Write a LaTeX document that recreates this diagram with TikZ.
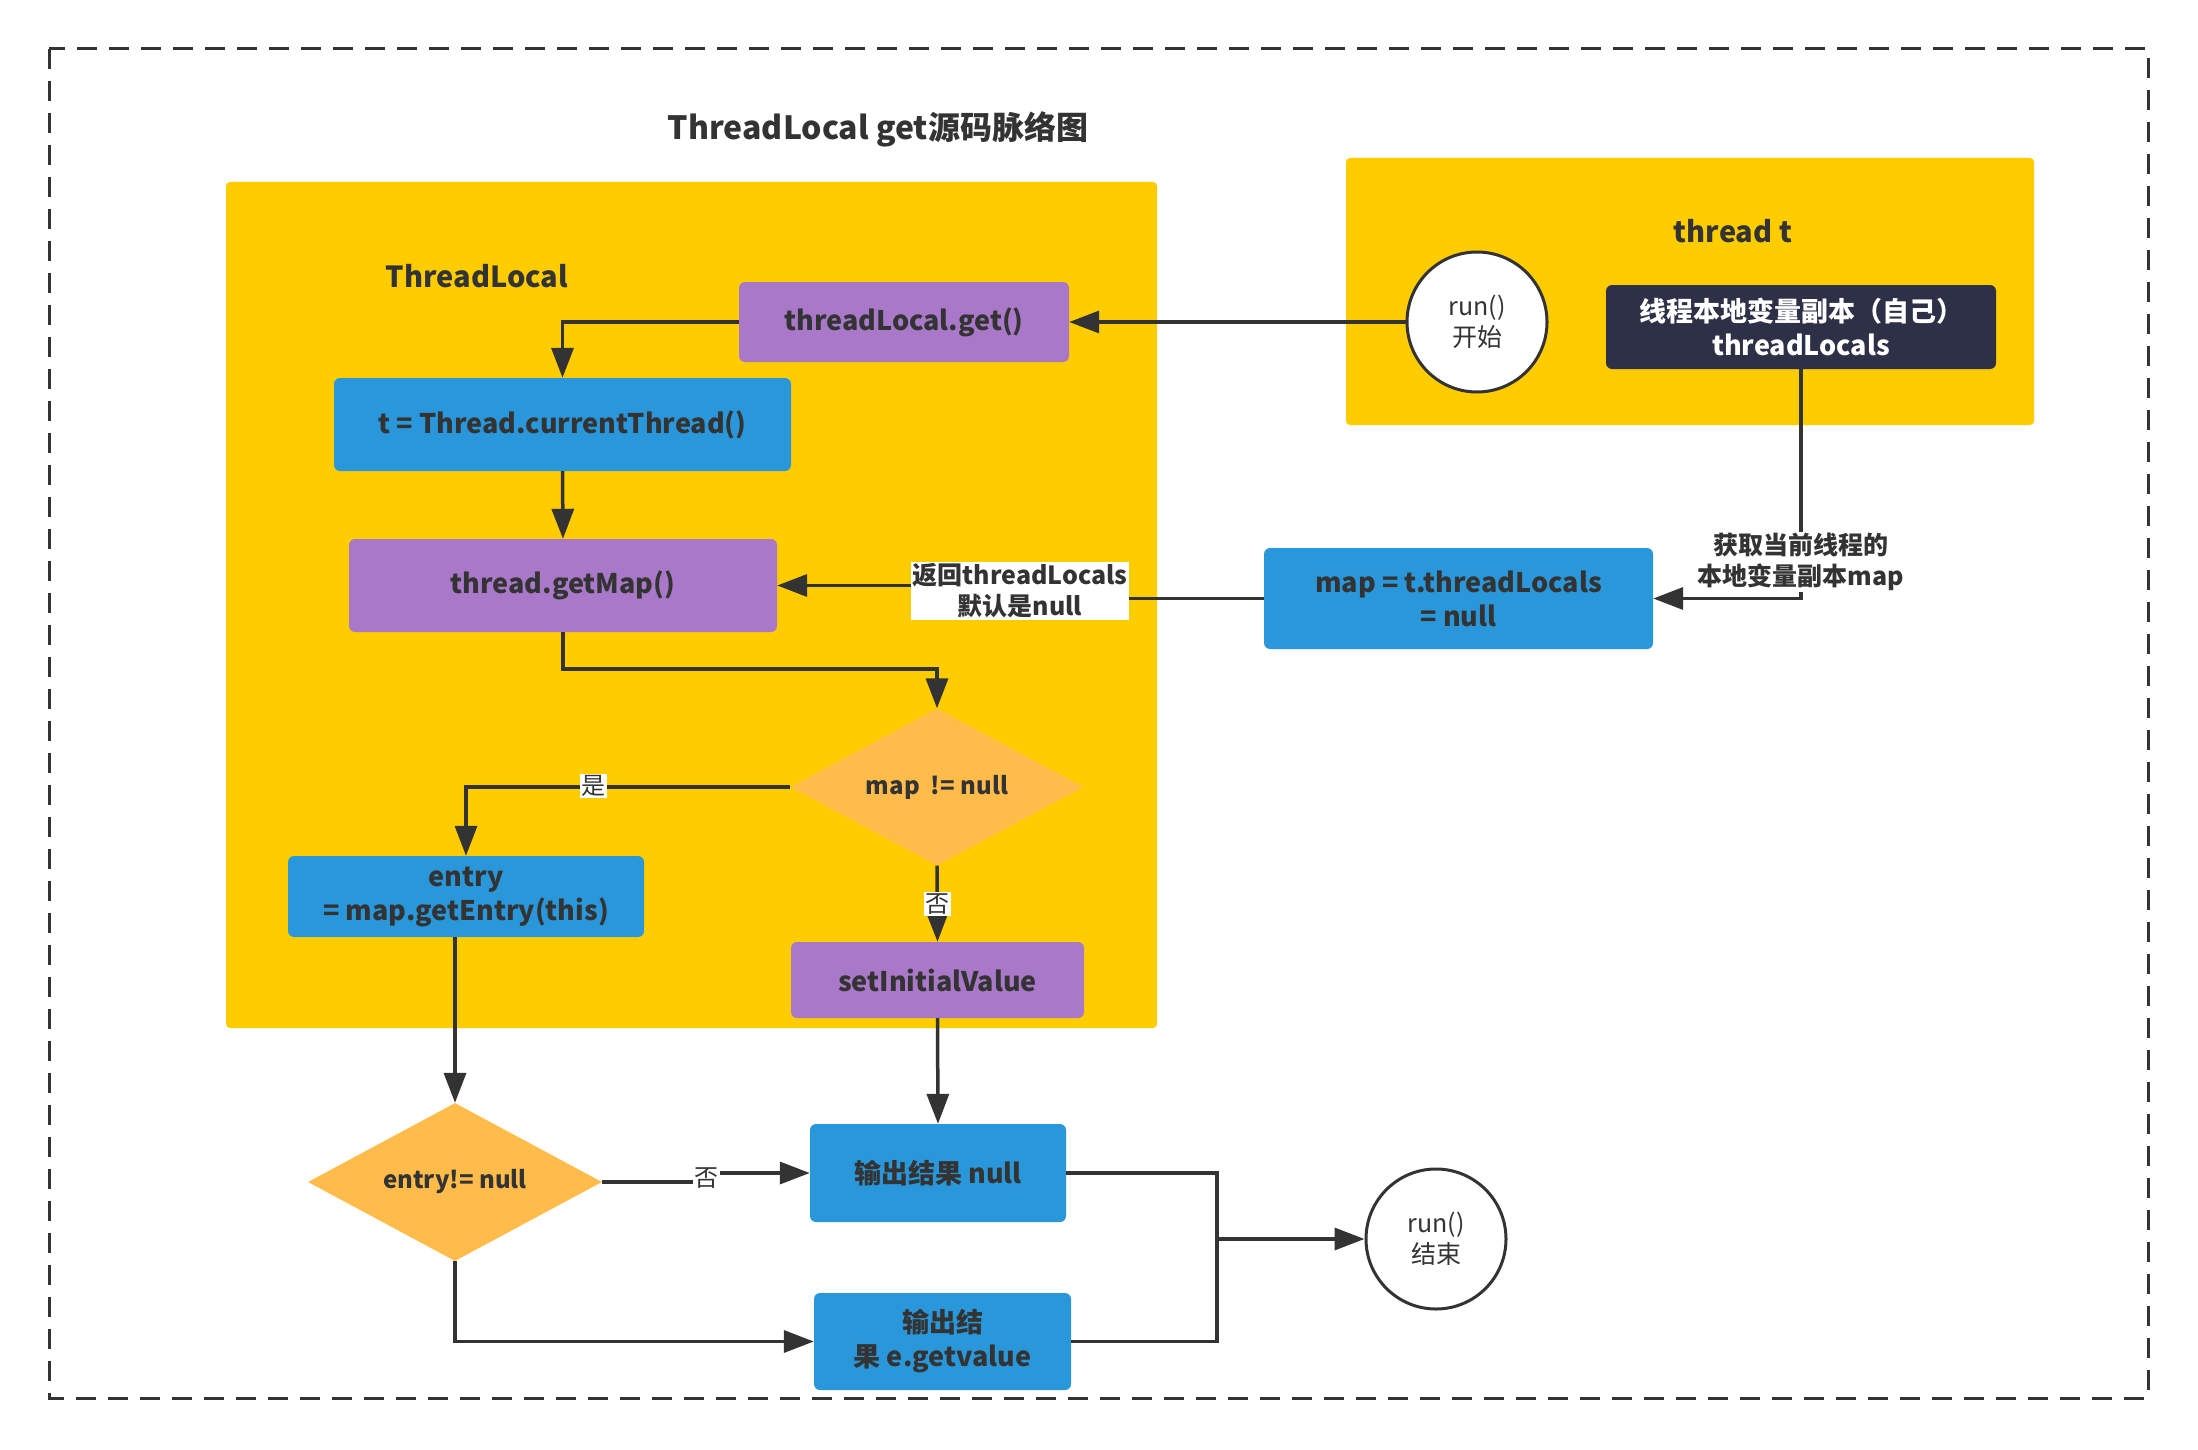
\documentclass[tikz,border=0pt]{standalone}
\usepackage{fontspec}
\setmainfont{Noto Sans CJK SC}
\usetikzlibrary{arrows.meta,shapes.geometric}
\definecolor{ylw}{HTML}{FFCC00}
\definecolor{prp}{HTML}{A978C9}
\definecolor{blu}{HTML}{2997DA}
\definecolor{dmd}{HTML}{FFBC4A}
\definecolor{drk}{HTML}{2D3047}
\definecolor{ink}{HTML}{333333}
\begin{document}
\begin{tikzpicture}[x=1pt,y=-1pt,
  line/.style={draw=ink, line width=3.5pt},
  arr/.style={line, -{Triangle[length=30pt,width=22pt]}},
  box/.style={rectangle, rounded corners=6pt, inner sep=0pt, text=ink, align=center, font=\bfseries\fontsize{27}{34}\selectfont},
  pbox/.style={box, fill=prp},
  bbox/.style={box, fill=blu},
  dia/.style={diamond, fill=dmd, inner sep=0pt, text=ink, font=\bfseries\fontsize{24}{30}\selectfont},
  term/.style={circle, draw=ink, line width=3pt, fill=white, minimum size=140pt, inner sep=0pt, align=center, text=ink, font=\fontsize{25}{31}\selectfont},
  lbl/.style={fill=white, inner sep=1.5pt, text=ink, font=\fontsize{24}{28}\selectfont},
  blbl/.style={fill=white, inner sep=1.5pt, text=ink, align=center, font=\bfseries\fontsize{25}{31}\selectfont},
  frame/.style={fill=ylw, rounded corners=4pt, inner sep=0pt},
  ttl/.style={text=ink, font=\bfseries\fontsize{29}{34}\selectfont}]
\useasboundingbox (0,0) rectangle (2198,1450);
\fill[white] (0,0) rectangle (2198,1450);
\draw[ink, line width=3pt, dash pattern=on 20pt off 12pt] (49,49) rectangle (2148,1398);
\node[ttl, font=\bfseries\fontsize{32}{36}\selectfont] (title) at (878,129) {ThreadLocal get源码脉络图};
% frames
\node[frame, minimum width=931pt, minimum height=846pt] (tlframe) at (691.5,605) {};
\node[ttl] (tllabel) at (477,276) {ThreadLocal};
\node[frame, minimum width=688pt, minimum height=267pt] (thframe) at (1690,291.5) {};
\node[ttl] (thlabel) at (1733,231) {thread t};
% nodes
\node[term] (start) at (1477,322) {run()\\开始};
\node[box, fill=drk, text=white, minimum width=390pt, minimum height=84pt] (dark) at (1801,327) {线程本地变量副本（自己）\\threadLocals};
\node[pbox, minimum width=330pt, minimum height=80pt] (get) at (904,322) {\raisebox{-3pt}{threadLocal.get()}};
\node[bbox, minimum width=457pt, minimum height=93pt] (cur) at (562.5,424.5) {\raisebox{-2pt}{t = Thread.currentThread()}};
\node[pbox, minimum width=428pt, minimum height=93pt] (getmap) at (563,585.5) {\raisebox{-2pt}{thread.getMap()}};
\node[bbox, minimum width=389pt, minimum height=101pt] (mapbox) at (1458.5,598.5) {map = t.threadLocals\\= null};
\node[dia, minimum width=293pt, minimum height=157pt] (mapnn) at (937,787) {\makebox[0pt]{\raisebox{-4pt}{map\ \ != null}}};
\node[bbox, minimum width=356pt, minimum height=81pt] (entry) at (466,896.5) {entry\\= map.getEntry(this)};
\node[pbox, minimum width=293pt, minimum height=76pt] (setinit) at (937.5,980) {setInitialValue};
\node[dia, minimum width=294pt, minimum height=158pt] (entnn) at (455,1182) {\makebox[0pt]{\raisebox{-5pt}{entry!= null}}};
\node[bbox, minimum width=256pt, minimum height=98pt] (outnull) at (938,1173) {输出结果 null};
\node[bbox, minimum width=257pt, minimum height=97pt] (outval) at (942.5,1341.5) {输出结\\果 e.getvalue};
\node[term] (end) at (1436,1239) {run()\\结束};
\coordinate (join) at (1217,1239);
\coordinate (retc) at (1020,591);
\coordinate (nojog) at (706,1178);
% connectors
\draw[arr] (start.west) -- (get.east);
\draw[arr] (get.west) -| (cur.north);
\draw[arr] (cur.south) -- (getmap.north);
\draw[arr] (getmap.south) -- ++(0,37) -| (mapnn.north);
\draw[arr] (mapnn.west) -| (entry.north);
\draw[arr] (mapnn.south) -- (setinit.north);
\draw[arr] (entry.south -| entnn.north) -- (entnn.north);
\draw[arr] (setinit.south) -- (outnull.north);
\draw[arr] (entnn.east) -- (entnn.east -| nojog) |- (outnull.west);
\draw[arr] (entnn.south) |- (outval.west);
\draw[arr] (outnull.east) -| (join) -- (end.west);
\draw[line] (outval.east) -| (join);
\draw[arr] (dark.south) |- (mapbox.east);
\draw[arr] (mapbox.west) -- (mapbox.west -| retc) |- (getmap.east);
% labels
\node[lbl] (yes) at (593,786) {是};
\node[lbl] (no1) at (937,904) {否};
\node[lbl] (no2) at (nojog) {否};
\node[blbl] (ret) at (retc) {返回threadLocals\\默认是null};
\node[blbl] (fetch) at (1801,562) {获取当前线程的\\本地变量副本map};
\end{tikzpicture}
\end{document}
